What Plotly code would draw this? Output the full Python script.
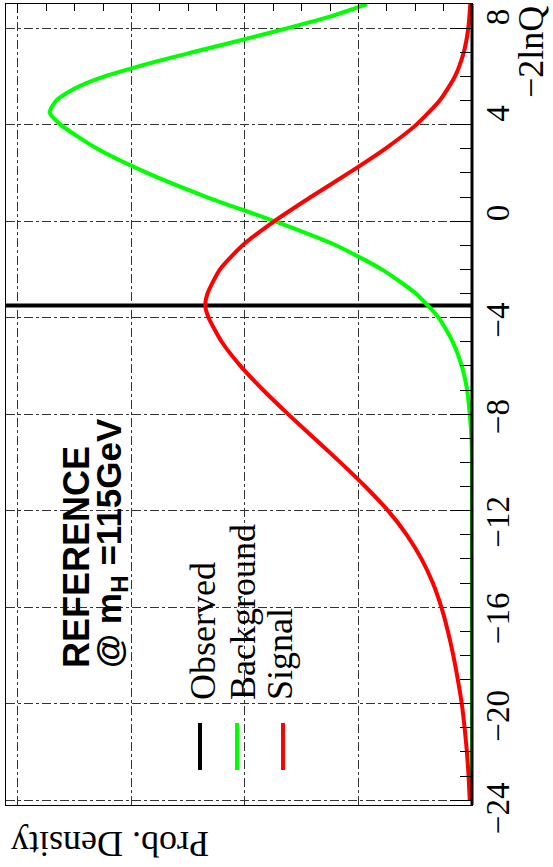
import plotly.graph_objects as go

# ---------------- data ----------------
lnq_bkg = [-24, -12, -10, -9, -8, -7, -6, -5, -4, -3, -2, -1, 0, 1, 2, 3, 4, 4.5, 5, 5.5, 6, 6.5, 7, 7.5, 8, 8.5, 9]
dens_bkg = [0, 0, 0, 0.0002, 0.0008, 0.0017, 0.0036, 0.0068, 0.0118, 0.0198, 0.0318, 0.048, 0.0696,
            0.0935, 0.1145, 0.1320, 0.1450, 0.1488, 0.1465, 0.1400, 0.1295, 0.1150, 0.0985, 0.0815,
            0.0650, 0.0495, 0.0370]

lnq_sig = [-24, -23, -22, -21, -20, -19, -18, -17, -16, -15, -14, -13, -12, -11, -10, -9, -8, -7, -6,
           -5, -4, -3.5, -3, -2, -1, 0, 1, 2, 3, 4, 5, 6, 7, 8, 9]
dens_sig = [0.0008, 0.0012, 0.0018, 0.0026, 0.0036, 0.0050, 0.0066, 0.0085, 0.0108, 0.0138, 0.0178,
            0.0230, 0.0296, 0.0376, 0.0464, 0.0556, 0.0648, 0.0736, 0.0816, 0.0882, 0.0928, 0.0940,
            0.0932, 0.0888, 0.0808, 0.0696, 0.0568, 0.0434, 0.0306, 0.0196, 0.0114, 0.0060, 0.0029,
            0.0013, 0.0006]

observed = -3.5
dens_range = [0.1642, 0]
lnq_range = [-24.2, 9.0]

tick_vals = [-24, -20, -16, -12, -8, -4, 0, 4, 8]
tick_text = ["\u221224", "\u221220", "\u221216", "\u221212", "\u22128", "\u22124", "0", "4", "8"]
# visual offset (px, downward) of each label from its tick, as drawn in the reference
tick_label_offset = [8, 12, 11, 11, 3, 3, -8, -11, -11]

legend_names = ["Observed", "Background", "Signal"]
legend_colors = ["#000000", "#00ff00", "#ff0000"]

# ---------------- layout helpers (pixel -> paper) ----------------
W, H = 553, 867
L, R, T, B = 6, 472, 4, 805


def xp(px):
    return (px - L) / (R - L)


def yp(py):
    return (B - py) / (B - T)


SERIF = "Liberation Serif, Times New Roman, serif"
SANS = "Liberation Sans, Arial, sans-serif"

fig = go.Figure()

fig.add_trace(go.Scatter(x=[dens_range[0], 0], y=[observed, observed], mode="lines",
                         line=dict(color="#000000", width=4), showlegend=False, hoverinfo="skip"))
fig.add_trace(go.Scatter(x=dens_bkg, y=lnq_bkg, mode="lines",
                         line=dict(color="#00ff00", width=4, shape="spline", smoothing=0.6),
                         showlegend=False, hoverinfo="skip"))
fig.add_trace(go.Scatter(x=dens_sig, y=lnq_sig, mode="lines",
                         line=dict(color="#ff0000", width=4, shape="spline", smoothing=0.6),
                         showlegend=False, hoverinfo="skip"))

grid = dict(showgrid=True, gridcolor="#333333", gridwidth=1, griddash="dashdot")

fig.update_xaxes(range=dens_range, side="top", showticklabels=False, ticks="inside",
                 dtick=0.04, tick0=0, ticklen=9, tickwidth=1, tickcolor="#000", automargin=False,
                 minor=dict(dtick=0.01, ticks="inside", ticklen=7, tickcolor="#000", showgrid=False),
                 showline=True, linecolor="#000", linewidth=1, mirror=True, zeroline=False, **grid)

fig.update_yaxes(range=lnq_range, side="right", tickmode="array", tickvals=tick_vals,
                 showticklabels=False, ticks="inside", ticklen=22, tickwidth=1,
                 tickcolor="#000", automargin=False,
                 minor=dict(dtick=1, tick0=0, ticks="inside", ticklen=12, tickcolor="#000", showgrid=False),
                 showline=True, linecolor="#000", linewidth=1, mirror=True, zeroline=False, **grid)

shapes = [dict(type="line", xref="paper", yref="paper", x0=1, x1=1, y0=0, y1=1,
               line=dict(color="#000", width=3))]
lx = [200, 237, 283]
for x, c in zip(lx, legend_colors):
    shapes.append(dict(type="line", xref="paper", yref="paper", x0=xp(x), x1=xp(x),
                       y0=yp(770), y1=yp(723), line=dict(color=c, width=4)))

ann = []
# tick labels of the -2lnQ axis, rotated like the reference
for v, t, off in zip(tick_vals, tick_text, tick_label_offset):
    ann.append(dict(text=t, x=xp(498), y=v, xref="paper", yref="y", yshift=-off,
                    xanchor="center", yanchor="middle", textangle=-90, showarrow=False,
                    font=dict(family=SERIF, size=33, color="#000")))
ann.append(dict(text="<b>REFERENCE</b>", x=xp(76), y=yp(670), xref="paper", yref="paper",
                xanchor="center", yanchor="bottom", textangle=-90, showarrow=False,
                font=dict(family=SANS, size=36, color="#000")))
ann.append(dict(text="<b>@ m<sub>H</sub> =115GeV</b>", x=xp(111), y=yp(670), xref="paper", yref="paper",
                xanchor="center", yanchor="bottom", textangle=-90, showarrow=False,
                font=dict(family=SANS, size=35, color="#000")))
for name, x in zip(legend_names, [203, 243, 280]):
    ann.append(dict(text=name, x=xp(x), y=yp(702), xref="paper", yref="paper",
                    xanchor="center", yanchor="bottom", textangle=-90, showarrow=False,
                    font=dict(family=SERIF, size=36, color="#000")))
ann.append(dict(text="\u22122lnQ", x=xp(531), y=yp(4), xref="paper", yref="paper",
                xanchor="center", yanchor="top", textangle=-90, showarrow=False,
                font=dict(family=SERIF, size=36, color="#000")))
ann.append(dict(text="Prob. Density", x=xp(110), y=yp(844), xref="paper", yref="paper",
                xanchor="center", yanchor="middle", textangle=180, showarrow=False,
                font=dict(family=SERIF, size=36, color="#000")))

fig.update_layout(width=W, height=H, margin=dict(l=L, r=W - R, t=T, b=H - B, autoexpand=False),
                  paper_bgcolor="#ffffff", plot_bgcolor="#ffffff", showlegend=False,
                  shapes=shapes, annotations=ann)

fig.write_html("out.html", config={"displayModeBar": False},
               post_script="document.body.style.margin='0';document.body.style.padding='0';"
                           "document.body.style.overflow='hidden';")
